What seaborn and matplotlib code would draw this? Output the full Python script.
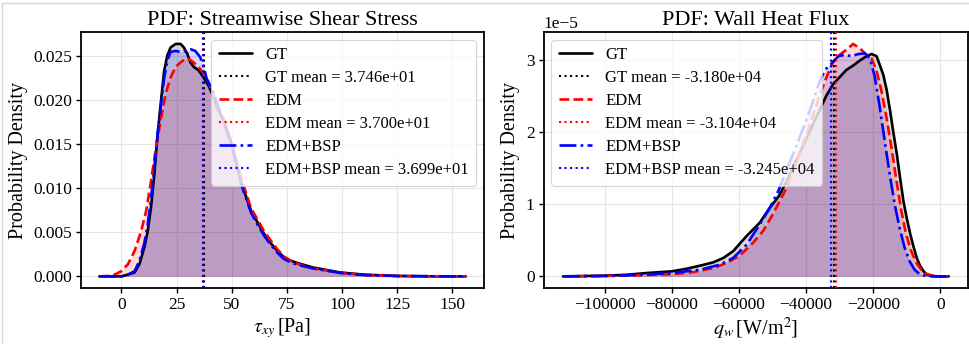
import numpy as np
import pandas as pd
import matplotlib
matplotlib.use("Agg")
import matplotlib.pyplot as plt
from matplotlib.lines import Line2D
import seaborn as sns

# ---------------- data ----------------
# Left panel: streamwise shear stress tau_xy [Pa]
tau_gt_x = [-10, 0, 3.0, 6.0, 8.2, 10.4, 11.9, 13.4, 14.9, 16.4, 17.9, 19.3, 20.8, 22.3, 24.6,
            26.8, 28.3, 29.8, 31.3, 32.7, 35.0, 37.2, 39.4, 41.7, 43.2, 46.2, 50.0, 54.5, 58.8,
            61.8, 64.7, 67.6, 70.6, 73.5, 76.5, 80, 87, 99, 110, 125, 140, 156]
tau_gt_y = [0, 0, 0.0002, 0.00045, 0.0014, 0.0033, 0.0051, 0.0078, 0.0115, 0.0161, 0.0198, 0.0232,
            0.0251, 0.0260, 0.0264, 0.0264, 0.0260, 0.0253, 0.0243, 0.0238, 0.0234, 0.0226, 0.0217,
            0.0204, 0.0192, 0.0178, 0.0150, 0.0105, 0.0074, 0.0061, 0.0048, 0.0038, 0.0029, 0.0022,
            0.0018, 0.0015, 0.0010, 0.00045, 0.0002, 0.00005, 0.00001, 0]

tau_edm_x = [-10, -6, -3, 0, 3.0, 6.0, 8.9, 11.2, 13.4, 15.6, 17.9, 20.1, 22.3, 24.6, 26.8, 29.0,
             30.5, 32.7, 35.0, 37.2, 39.4, 41.7, 43.2, 46.2, 50.0, 54.5, 58.8, 61.8, 64.7, 67.6,
             70.6, 73.5, 76.5, 80, 87, 99, 110, 125, 140, 156]
tau_edm_y = [0, 0.00005, 0.0002, 0.0006, 0.0014, 0.0029, 0.0051, 0.0074, 0.0108, 0.0145, 0.0179,
             0.0208, 0.0226, 0.0238, 0.0243, 0.0247, 0.0247, 0.0243, 0.0238, 0.0230, 0.0221, 0.0206,
             0.0192, 0.0180, 0.0152, 0.0110, 0.0077, 0.0064, 0.0051, 0.0041, 0.0031, 0.0023, 0.0018,
             0.0014, 0.0009, 0.0004, 0.00015, 0.00004, 0.00001, 0]

tau_bsp_x = [-10, 0, 3.0, 6.0, 8.2, 10.4, 11.9, 13.4, 14.9, 16.4, 17.9, 19.3, 20.8, 22.3, 24.6,
             26.8, 29.0, 31.3, 33.5, 35.7, 37.2, 38.7, 40.2, 41.7, 43.2, 46.2, 50.0, 54.5, 58.8,
             61.8, 64.7, 67.6, 70.6, 73.5, 76.5, 80, 87, 99, 110, 125, 140, 156]
tau_bsp_y = [0, 0, 0.0002, 0.0006, 0.0018, 0.0038, 0.0059, 0.0087, 0.0123, 0.0161, 0.0194, 0.0224,
             0.0245, 0.0255, 0.0256, 0.0255, 0.0256, 0.0258, 0.0256, 0.0249, 0.0239, 0.0224, 0.0217,
             0.0209, 0.0198, 0.0176, 0.0148, 0.0103, 0.0072, 0.0058, 0.0046, 0.0036, 0.0027, 0.0020,
             0.0016, 0.0013, 0.0009, 0.0004, 0.00015, 0.00004, 0.00001, 0]

tau_means = [37.46, 37.00, 36.99]

# Right panel: wall heat flux q_w [W/m^2], density in units of 1e-5
qw_gt_x = [-112400, -100000, -93200, -87300, -80000, -75500, -71500, -67600, -64600, -61700,
           -60000, -57700, -53800, -50800, -48000, -46000, -44000, -42000, -40000, -38000, -36000,
           -34000, -32000, -30000, -28000, -26000, -24000, -22000, -20500, -19000, -18000, -17000,
           -16000, -15000, -14000, -13000, -12000, -11000, -10000, -9000, -8000, -7000, -6000,
           -5000, -4000, -3000, -2000, 0, 2470]
qw_gt_y_1e5 = [0, 0.01, 0.023, 0.047, 0.07, 0.107, 0.149, 0.195, 0.256, 0.35, 0.44, 0.56, 0.744,
               0.95, 1.12, 1.30, 1.50, 1.70, 1.90, 2.10, 2.30, 2.50, 2.66, 2.76, 2.86, 2.92, 2.99,
               3.05, 3.08, 3.05, 2.92, 2.79, 2.58, 2.30, 1.99, 1.70, 1.36, 1.04, 0.80, 0.59, 0.41,
               0.25, 0.14, 0.07, 0.025, 0.01, 0.003, 0, 0]

qw_edm_x = [-112400, -100000, -90000, -80000, -73500, -67600, -63600, -59700, -55800, -52800,
            -49900, -47900, -46200, -44000, -42000, -40000, -38000, -36000, -34000, -32000,
            -30000, -28000, -26000, -24000, -22000, -20500, -19100, -17600, -16100, -14600,
            -13100, -11650, -10200, -8700, -7200, -5700, -4250, -2270, -300, 2470]
qw_edm_y_1e5 = [0, 0.005, 0.015, 0.03, 0.06, 0.116, 0.186, 0.29, 0.465, 0.63, 0.86, 1.04, 1.19,
                1.45, 1.70, 1.95, 2.22, 2.50, 2.75, 2.97, 3.07, 3.14, 3.22, 3.16, 3.07, 3.02, 2.86,
                2.58, 2.21, 1.79, 1.33, 0.91, 0.58, 0.35, 0.19, 0.093, 0.037, 0.01, 0, 0]

qw_bsp_x = [-112400, -100000, -90000, -80000, -71500, -65600, -61700, -57700, -53800, -50800,
            -48200, -46700, -44000, -42000, -40000, -38000, -36350, -34400, -32400, -30400,
            -28400, -26500, -24500, -22500, -21000, -19560, -18080, -16600, -15110, -13630,
            -12150, -10670, -9190, -7700, -6220, -4250, -2000, 2470]
qw_bsp_y_1e5 = [0, 0.005, 0.02, 0.047, 0.093, 0.163, 0.256, 0.44, 0.72, 0.95, 1.19, 1.37, 1.68,
                1.92, 2.15, 2.42, 2.65, 2.86, 2.95, 3.05, 3.07, 3.05, 3.08, 3.09, 3.02, 2.77, 2.35,
                1.88, 1.42, 1.00, 0.67, 0.40, 0.21, 0.093, 0.033, 0.005, 0, 0]

qw_means = [-31800, -31040, -32450]

series_names = ["GT", "EDM", "EDM+BSP"]
titles = ["PDF: Streamwise Shear Stress", "PDF: Wall Heat Flux"]
xlabels = [r"$\tau_{xy}\,$[Pa]", r"$q_w\,$[W/m$^2$]"]
ylabel = "Probability Density"

# ---------------- style ----------------
sns.set_theme(style="whitegrid", rc={
    "axes.edgecolor": "black",
    "axes.linewidth": 1.3,
    "grid.color": "#e6e6e6",
    "grid.linewidth": 0.8,
    "xtick.bottom": True,
    "ytick.left": True,
    "xtick.color": "black",
    "ytick.color": "black",
    "xtick.major.size": 3.5,
    "ytick.major.size": 3.5,
    "xtick.major.width": 1.0,
    "ytick.major.width": 1.0,
    "axes.labelcolor": "black",
    "text.color": "black",
})
plt.rcParams["font.family"] = ["Liberation Serif", "DejaVu Serif"]
plt.rcParams["mathtext.fontset"] = "stix"
plt.rcParams["axes.unicode_minus"] = True

colors = ["black", "red", "blue"]
styles = ["-", "--", "-."]

fig = plt.figure(figsize=(9.7, 3.44), dpi=100)
W, H = 970, 344
ax1 = fig.add_axes([81 / W, 1 - 288 / H, 403 / W, (288 - 32.3) / H])
ax2 = fig.add_axes([543.7 / W, 1 - 288 / H, 424.3 / W, (288 - 32.3) / H])


def draw(ax, xs, ys, means, fmt):
    for name, x, y, m, c, ls in zip(series_names, xs, ys, means, colors, styles):
        df = pd.DataFrame({"x": x, "density": y})
        sns.lineplot(data=df, x="x", y="density", ax=ax, color=c, linestyle=ls,
                     linewidth=1.9, label=name, zorder=3)
        ax.fill_between(df["x"], df["density"], color=c, alpha=0.15, linewidth=0, zorder=2)
        ax.axvline(m, color=c, linestyle=":", linewidth=1.5,
                   label=f"{name} mean = {m:{fmt}}", zorder=4)


draw(ax1, [tau_gt_x, tau_edm_x, tau_bsp_x], [tau_gt_y, tau_edm_y, tau_bsp_y], tau_means, ".3e")
draw(ax2, [qw_gt_x, qw_edm_x, qw_bsp_x],
     [np.array(qw_gt_y_1e5) * 1e-5, np.array(qw_edm_y_1e5) * 1e-5, np.array(qw_bsp_y_1e5) * 1e-5],
     qw_means, ".3e")

for ax, t, xl, loc in zip([ax1, ax2], titles, xlabels, ["upper right", "upper left"]):
    ax.set_title(t, fontsize=16, pad=5)
    ax.set_xlabel(xl, fontsize=14.5, labelpad=2)
    ax.set_ylabel(ylabel, fontsize=14.5, labelpad=4)
    ax.tick_params(axis="both", labelsize=12.5, pad=3)
    for s in ax.spines.values():
        s.set_color("black")
        s.set_linewidth(1.3)
    ax.margins(x=0.05, y=0.05)
    leg = ax.legend(loc=loc, fontsize=12, framealpha=0.8, edgecolor="#cccccc",
                    handlelength=2.0, labelspacing=0.42, borderpad=0.45,
                    borderaxespad=0.45)
    leg.get_frame().set_linewidth(0.8)

ax1.set_xticks([0, 25, 50, 75, 100, 125, 150])
ax1.set_yticks([0, 0.005, 0.010, 0.015, 0.020, 0.025])
ax1.yaxis.set_major_formatter(matplotlib.ticker.FormatStrFormatter("%.3f"))
ax2.set_xticks([-100000, -80000, -60000, -40000, -20000, 0])
ax2.set_yticks([0, 1e-5, 2e-5, 3e-5])
ax2.yaxis.get_offset_text().set_fontsize(12.5)

# thin screenshot frame at left/top edge
fig.add_artist(Line2D([2.5 / W, 2.5 / W], [0, 1 - 2.5 / H], color="#d4d4d4", lw=1.0,
                      transform=fig.transFigure))
fig.add_artist(Line2D([2.5 / W, 1], [1 - 2.5 / H, 1 - 2.5 / H], color="#d4d4d4", lw=1.0,
                      transform=fig.transFigure))

fig.savefig("out.png", dpi=100)
